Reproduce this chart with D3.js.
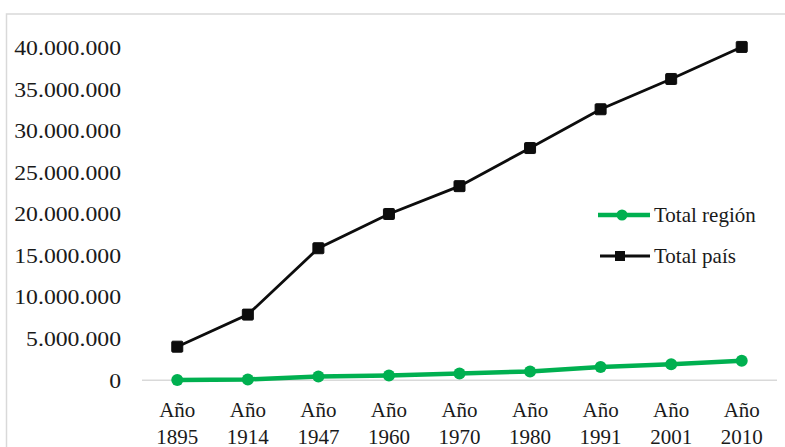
<!DOCTYPE html>
<html>
<head>
<meta charset="utf-8">
<script src="https://cdn.jsdelivr.net/npm/d3@7"></script>
<style>
  body { margin: 0; background: #fff; }
</style>
</head>
<body>
<div class="chart"></div>
<script>
const years = ["1895", "1914", "1947", "1960", "1970", "1980", "1991", "2001", "2010"];
const totalPais = [4044911, 7903662, 15893827, 20013793, 23364431, 27949480, 32615528, 36260130, 40117096];
const totalRegion = [50000, 110000, 450000, 570000, 830000, 1070000, 1610000, 1940000, 2340000];
const yTicks = [0, 5000000, 10000000, 15000000, 20000000, 25000000, 30000000, 35000000, 40000000];

const serif = '"Liberation Serif"';
let svg, w, h, xScale, yScale;
w = 785;
h = 447;

svg = d3.select(".chart").append("svg")
  .attr("width", w)
  .attr("height", h);

// the reference type is a bit wider than Liberation Serif: stretch it a little
const widen = (sel, k) => sel.each(function() {
  const len = this.getComputedTextLength();
  d3.select(this).attr("textLength", len * k).attr("lengthAdjust", "spacingAndGlyphs");
});

// marco del grafico
svg.append("rect")
  .attr("x", 6.5).attr("y", 14)
  .attr("width", w + 20).attr("height", h + 20)
  .attr("fill", "none")
  .attr("stroke", "#d9d9d9")
  .attr("stroke-width", 1.5);

xScale = d3.scaleBand()
  .domain(years)
  .range([142, 777]);

yScale = d3.scaleLinear()
  .domain([0, 40000000])
  .range([380.3, 47.9]);

const fmt = v => v === 0 ? "0" : d3.format(",")(v).replace(/,/g, ".");

// eje y (solo etiquetas)
const yAxis = d3.axisLeft(yScale).tickValues(yTicks).tickFormat(fmt).tickSize(0).tickPadding(0);
svg.append("g")
  .attr("transform", "translate(121, 0)")
  .call(yAxis)
  .call(g => g.select(".domain").remove())
  .call(g => g.selectAll("text")
    .style("font-family", serif)
    .style("font-size", "21px")
    .attr("fill", "#1a1a1a")
    .call(widen, 1.13));

// eje x
svg.append("line")
  .attr("x1", 142).attr("x2", 777)
  .attr("y1", yScale(0)).attr("y2", yScale(0))
  .attr("stroke", "#d9d9d9")
  .attr("stroke-width", 1.5);

const xLabels = svg.append("g");
years.forEach(y => {
  const cx = xScale(y) + xScale.bandwidth() / 2;
  const t = xLabels.append("text")
    .attr("text-anchor", "middle")
    .style("font-family", serif)
    .style("font-size", "21px")
    .attr("fill", "#1a1a1a")
    .attr("x", cx)
    .attr("y", 417);
  t.append("tspan").attr("x", cx).attr("dy", 0).text("Año");
  t.append("tspan").attr("x", cx).attr("dy", 27).text(y);
});

const xc = (d, i) => xScale(years[i]) + xScale.bandwidth() / 2;

const line = d3.line()
  .x((d, i) => xc(d, i))
  .y(d => yScale(d));

// Total país
svg.append("path")
  .datum(totalPais)
  .attr("d", line)
  .attr("fill", "none")
  .attr("stroke", "#0d0d0d")
  .attr("stroke-width", 2.8);

svg.selectAll(".sq")
  .data(totalPais)
  .enter()
  .append("rect")
  .attr("class", "sq")
  .attr("x", (d, i) => xc(d, i) - 5.5)
  .attr("y", d => yScale(d) - 5.5)
  .attr("width", 11)
  .attr("height", 11)
  .attr("rx", 1)
  .attr("fill", "#0d0d0d")
  .attr("stroke", "#0d0d0d")
  .attr("stroke-width", 1);

// Total región
svg.append("path")
  .datum(totalRegion)
  .attr("d", line)
  .attr("fill", "none")
  .attr("stroke", "#00b050")
  .attr("stroke-width", 4.5);

svg.selectAll(".dot")
  .data(totalRegion)
  .enter()
  .append("circle")
  .attr("class", "dot")
  .attr("cx", (d, i) => xc(d, i))
  .attr("cy", d => yScale(d))
  .attr("r", 6)
  .attr("fill", "#00b050");

// leyenda
const legend = svg.append("g").attr("id", "legend");
legend.append("line")
  .attr("x1", 598).attr("x2", 650).attr("y1", 215).attr("y2", 215)
  .attr("stroke", "#00b050").attr("stroke-width", 4.5);
legend.append("circle")
  .attr("cx", 622).attr("cy", 215).attr("r", 5.5)
  .attr("fill", "#00b050");
legend.append("text")
  .attr("x", 654).attr("y", 222)
  .style("font-family", serif)
  .style("font-size", "21px")
  .attr("fill", "#1a1a1a")
  .text("Total región");

legend.append("line")
  .attr("x1", 600).attr("x2", 650).attr("y1", 256).attr("y2", 256)
  .attr("stroke", "#0d0d0d").attr("stroke-width", 2.8);
legend.append("rect")
  .attr("x", 615).attr("y", 251).attr("width", 10).attr("height", 10)
  .attr("fill", "#0d0d0d");
legend.append("text")
  .attr("x", 654).attr("y", 263)
  .style("font-family", serif)
  .style("font-size", "21px")
  .attr("fill", "#1a1a1a")
  .text("Total país");
</script>
</body>
</html>
